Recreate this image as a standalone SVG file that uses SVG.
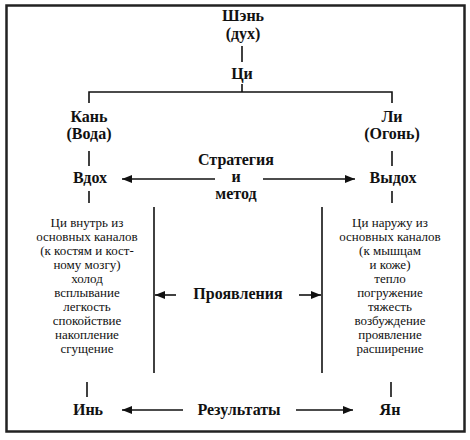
<svg xmlns="http://www.w3.org/2000/svg" width="470" height="440" viewBox="0 0 470 440">
<defs>
<style>
.b{font-family:"Liberation Serif","Times New Roman",serif;font-weight:bold;font-size:16px;fill:#111;text-anchor:middle}
.r{font-family:"Liberation Serif","Times New Roman",serif;font-size:13px;fill:#111;text-anchor:middle}
.ln{stroke:#111;stroke-width:1.6;fill:none}
.ar{stroke:#111;stroke-width:1.6;fill:none;marker-end:url(#ah)}
</style>
<marker id="ah" markerUnits="userSpaceOnUse" markerWidth="10" markerHeight="8" refX="10" refY="4" orient="auto">
<path d="M0,0 L10,4 L0,8 Z" fill="#111"/>
</marker>
</defs>
<rect width="470" height="440" fill="#fff"/>
<rect x="6.5" y="5.5" width="458" height="426" fill="none" stroke="#222" stroke-width="2.5"/>

<g id="shen"><text class="b" x="243" y="21">Шэнь</text><text class="b" x="243" y="39">(дух)</text></g>
<g id="qi"><text class="b" x="242" y="79">Ци</text></g>
<g id="kan"><text class="b" x="89" y="122">Кань</text><text class="b" x="89" y="139">(Вода)</text></g>
<g id="li"><text class="b" x="392" y="122">Ли</text><text class="b" x="392" y="139">(Огонь)</text></g>
<g id="vdoh"><text class="b" x="90" y="183">Вдох</text></g>
<g id="vydoh"><text class="b" x="393" y="183">Выдох</text></g>
<g id="strategy"><text class="b" x="236" y="165">Стратегия</text><text class="b" x="236" y="182">и</text><text class="b" x="236" y="199">метод</text></g>
<g id="left-col">
<text class="r" x="87" y="227">Ци внутрь из</text>
<text class="r" x="87" y="241">основных каналов</text>
<text class="r" x="87" y="255">(к костям и кост-</text>
<text class="r" x="87" y="269">ному мозгу)</text>
<text class="r" x="87" y="283">холод</text>
<text class="r" x="87" y="297">всплывание</text>
<text class="r" x="87" y="311">легкость</text>
<text class="r" x="87" y="325">спокойствие</text>
<text class="r" x="87" y="339">накопление</text>
<text class="r" x="87" y="353">сгущение</text>
</g>
<g id="right-col">
<text class="r" x="390" y="227">Ци наружу из</text>
<text class="r" x="390" y="241">основных каналов</text>
<text class="r" x="390" y="255">(к мышцам</text>
<text class="r" x="390" y="269">и коже)</text>
<text class="r" x="390" y="283">тепло</text>
<text class="r" x="390" y="297">погружение</text>
<text class="r" x="390" y="311">тяжесть</text>
<text class="r" x="390" y="325">возбуждение</text>
<text class="r" x="390" y="339">проявление</text>
<text class="r" x="390" y="353">расширение</text>
</g>
<g id="manif"><text class="b" x="238" y="299">Проявления</text></g>
<g id="yin"><text class="b" x="88" y="415">Инь</text></g>
<g id="yang"><text class="b" x="390" y="415">Ян</text></g>
<g id="results"><text class="b" x="239" y="415">Результаты</text></g>

<g id="connectors">
<line class="ln" x1="242" y1="46" x2="242" y2="62"/>
<polyline class="ln" points="89,103 89,92 392,92 392,103"/>
<line class="ln" x1="242" y1="84" x2="242" y2="92"/>
<line class="ln" x1="89" y1="151" x2="89" y2="166"/>
<line class="ln" x1="392" y1="151" x2="392" y2="166"/>
<line class="ar" x1="215" y1="179" x2="122" y2="179"/>
<line class="ar" x1="263" y1="179" x2="355" y2="179"/>
<line class="ln" x1="89" y1="191" x2="89" y2="203"/>
<line class="ln" x1="392" y1="191" x2="392" y2="203"/>
<line class="ln" x1="154" y1="207" x2="154" y2="373"/>
<line class="ln" x1="322" y1="207" x2="322" y2="373"/>
<line class="ar" x1="176" y1="295" x2="155" y2="295"/>
<line class="ar" x1="299" y1="295" x2="321" y2="295"/>
<line class="ln" x1="87" y1="382" x2="87" y2="397"/>
<line class="ln" x1="391" y1="382" x2="391" y2="397"/>
<line class="ar" x1="183" y1="410" x2="122" y2="410"/>
<line class="ar" x1="296" y1="410" x2="353" y2="410"/>
</g>
</svg>
